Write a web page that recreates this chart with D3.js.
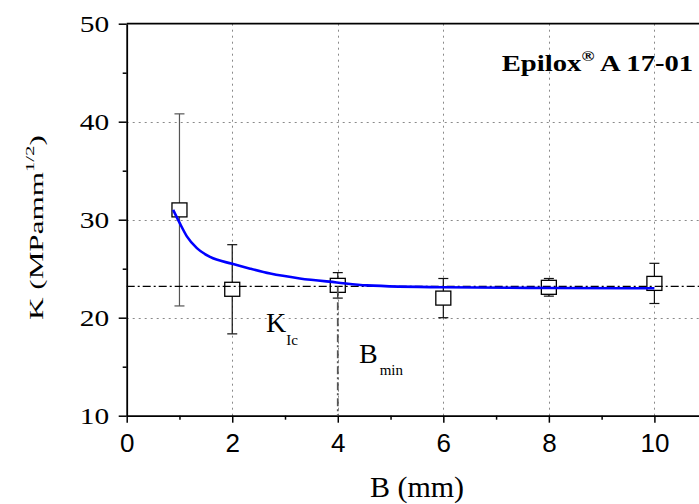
<!DOCTYPE html>
<html>
<head>
<meta charset="utf-8">
<script src="https://cdn.jsdelivr.net/npm/d3@7"></script>
<style>
  html, body { margin: 0; padding: 0; background: #fff; }
  svg { display: block; }
</style>
</head>
<body>
<svg id="chart" width="699" height="504"></svg>
<script>
// ---- data ----
const thickness = [1, 2, 4, 6, 8, 10];               // B (mm)
const kValues   = [31.0, 22.9, 23.3, 22.0, 23.1, 23.5]; // K (MPa mm^1/2)
const kErrors   = [9.8, 4.55, 1.3, 2.0, 0.9, 2.05];
const barColors = ["#555", "#111", "#111", "#111", "#111", "#111"];
const fitB = [0.88, 1.01, 1.14, 1.33, 1.58, 2.0, 2.34, 2.72, 3.28, 3.98, 4.55, 6.0, 8.0, 10.0];
const fitK = [31.0, 29.6, 28.3, 27.1, 26.2, 25.5, 25.0, 24.5, 24.0, 23.6, 23.3, 23.1, 23.03, 23.0];
const kIc = 23.2;
const bMin = 4;
const xTicks = [0, 2, 4, 6, 8, 10];
const xMinorTicks = [1, 3, 5, 7, 9];
const yTicks = [10, 20, 30, 40, 50];
const yMinorTicks = [15, 25, 35, 45];
const xGrid = [2, 4, 6, 8, 10];
const yGrid = [20, 30, 40];

(function () {
const svg = d3.select("#chart");
const plotLeft = 126.7, plotBottom = 415.7, plotTop = 23.7;
const x = d3.scaleLinear().domain([0, 11]).range([plotLeft, plotLeft + 11 * 52.77]);
const y = d3.scaleLinear().domain([10, 50]).range([plotBottom, plotTop]);
const serif = "'Liberation Serif', 'Times New Roman', serif";
const sans = "'Liberation Sans', Arial, sans-serif";

// grid
const grid = svg.append("g").attr("stroke", "#8a8a8a").attr("stroke-width", 1).attr("stroke-dasharray", "2,4");
grid.selectAll("line.v").data(xGrid).join("line").attr("class", "v")
  .attr("x1", d => Math.round(x(d)) + 0.5).attr("x2", d => Math.round(x(d)) + 0.5)
  .attr("y1", plotTop).attr("y2", plotBottom);
grid.selectAll("line.h").data(yGrid).join("line").attr("class", "h")
  .attr("x1", plotLeft).attr("x2", 699)
  .attr("y1", d => Math.round(y(d)) + 0.5).attr("y2", d => Math.round(y(d)) + 0.5);

// axes
const xAxis = svg.append("g").attr("transform", `translate(0,${plotBottom})`)
  .call(d3.axisBottom(x).tickValues(xTicks).tickSize(7).tickSizeOuter(0).tickPadding(10.5).tickFormat(d3.format("d")));
xAxis.selectAll("text").attr("font-family", sans).attr("font-size", 26).attr("fill", "#000");
svg.append("g").attr("transform", `translate(0,${plotBottom})`)
  .call(d3.axisBottom(x).tickValues(xMinorTicks).tickSize(4).tickSizeOuter(0).tickFormat(""))
  .select(".domain").remove();

const yAxis = svg.append("g").attr("transform", `translate(${plotLeft},0)`)
  .call(d3.axisLeft(y).tickValues(yTicks).tickSize(8).tickSizeOuter(0).tickFormat(d3.format("d")));
yAxis.selectAll("text")
  .attr("font-family", serif).attr("font-size", 23).attr("fill", "#000")
  .attr("x", 0).attr("text-anchor", "end")
  .attr("transform", "translate(-17.4,0) scale(1.28,1)");
svg.append("g").attr("transform", `translate(${plotLeft},0)`)
  .call(d3.axisLeft(y).tickValues(yMinorTicks).tickSize(4).tickSizeOuter(0).tickFormat(""))
  .select(".domain").remove();

svg.selectAll(".domain").attr("stroke-width", 1.8).attr("stroke", "#000");
svg.selectAll(".tick line").attr("stroke-width", 1.5).attr("stroke", "#000");

// top axis line
svg.append("line").attr("x1", plotLeft).attr("x2", 699).attr("y1", plotTop).attr("y2", plotTop)
  .attr("stroke", "#000").attr("stroke-width", 1.8);

// error bars
const pts = thickness.map((b, i) => ({b, k: kValues[i], e: kErrors[i], c: barColors[i]}));
const eb = svg.append("g").attr("stroke-width", 1.2);
eb.selectAll("line.stem").data(pts).join("line").attr("class", "stem")
  .attr("stroke", d => d.c)
  .attr("x1", d => x(d.b)).attr("x2", d => x(d.b))
  .attr("y1", d => y(d.k + d.e)).attr("y2", d => y(d.k - d.e));
eb.selectAll("line.capT").data(pts).join("line").attr("class", "capT")
  .attr("stroke", d => d.c)
  .attr("x1", d => x(d.b) - 5).attr("x2", d => x(d.b) + 5)
  .attr("y1", d => y(d.k + d.e)).attr("y2", d => y(d.k + d.e));
eb.selectAll("line.capB").data(pts).join("line").attr("class", "capB")
  .attr("stroke", d => d.c)
  .attr("x1", d => x(d.b) - 5).attr("x2", d => x(d.b) + 5)
  .attr("y1", d => y(d.k - d.e)).attr("y2", d => y(d.k - d.e));

// squares
svg.append("g").selectAll("rect").data(pts).join("rect")
  .attr("x", d => x(d.b) - 7.5).attr("y", d => y(d.k) - 7)
  .attr("width", 15).attr("height", 14)
  .attr("fill", "#fff").attr("stroke", "#000").attr("stroke-width", 1.3);

// K_Ic dash-dot line
svg.append("line").attr("x1", plotLeft).attr("x2", 699)
  .attr("y1", y(kIc)).attr("y2", y(kIc))
  .attr("stroke", "#000").attr("stroke-width", 1.2).attr("stroke-dasharray", "8,3,2,3");
// B_min vertical dash-dot line
svg.append("line").attr("x1", x(bMin)).attr("x2", x(bMin))
  .attr("y1", y(kIc)).attr("y2", plotBottom)
  .attr("stroke", "#555").attr("stroke-width", 1.8).attr("stroke-dasharray", "8,3,2,3");

// fit curve
const fit = fitB.map((b, i) => [b, fitK[i]]);
svg.append("path").datum(fit)
  .attr("d", d3.line().x(d => x(d[0])).y(d => y(d[1])).curve(d3.curveMonotoneX))
  .attr("fill", "none").attr("stroke", "#0000ff").attr("stroke-width", 2.6);

// labels
const kl = svg.append("text").attr("font-family", serif).attr("fill", "#000")
  .attr("x", 266).attr("y", 331.7);
kl.append("tspan").attr("font-size", 28).text("K");
kl.append("tspan").attr("font-size", 15).attr("dy", 13).text("Ic");

const bl = svg.append("text").attr("font-family", serif).attr("fill", "#000")
  .attr("x", 359).attr("y", 363.3);
bl.append("tspan").attr("font-size", 28).text("B");
bl.append("tspan").attr("font-size", 15).attr("dx", 2).attr("dy", 11.7).text("min");

// title
const title = svg.append("text").attr("font-family", serif).attr("font-weight", "bold")
  .attr("fill", "#000").attr("x", 0).attr("y", 0);
title.append("tspan").attr("font-size", 23).text("Epilox");
title.append("tspan").attr("font-size", 14).attr("dy", -10).text("®");
title.append("tspan").attr("font-size", 23).attr("dy", 10).text(" A 17-01");
{
  const w = title.node().getBBox().width;
  title.attr("transform", `translate(501.7,70.7) scale(${191.6 / w},1)`);
}

// x title
svg.append("text").attr("font-family", serif).attr("font-size", 30).attr("fill", "#000")
  .attr("text-anchor", "middle").attr("x", 417).attr("y", 497).text("B (mm)");

// y title
const yt = svg.append("text").attr("font-family", serif).attr("fill", "#000").attr("x", 0).attr("y", 0);
yt.append("tspan").attr("font-size", 18).text("K  (MPamm");
yt.append("tspan").attr("font-size", 12).attr("dy", -9).text("1/2");
yt.append("tspan").attr("font-size", 18).attr("dy", 9).text(")");
{
  const w = yt.node().getBBox().width;
  yt.attr("transform", `translate(43.3,320) rotate(-90) scale(${185 / w},1)`);
}
})();
</script>
</body>
</html>
